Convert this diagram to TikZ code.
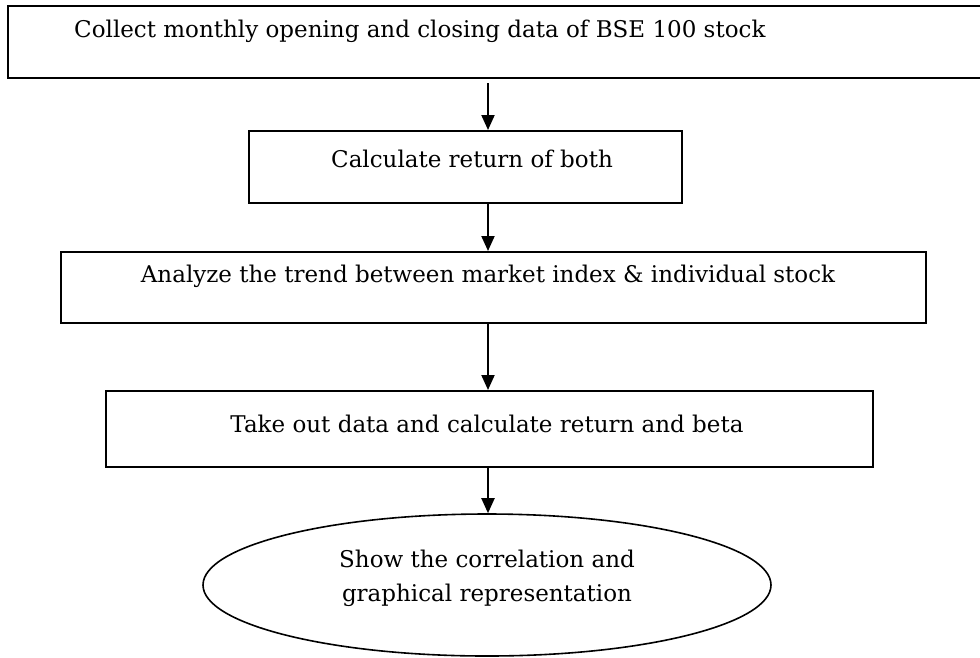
\documentclass[tikz,border=0pt]{standalone}
\usepackage{fontspec}
\setmainfont{DejaVu Serif}
\usetikzlibrary{shapes.geometric,arrows.meta}
\begin{document}
\begin{tikzpicture}[x=1pt,y=-1pt,
  boxline/.style={draw,line width=2pt},
  flow/.style={-{Triangle[length=15pt,width=13pt]},line width=2pt},
  txt/.style={font=\fontsize{23}{34}\selectfont,inner sep=0pt}]
\useasboundingbox (0,0) rectangle (980,657);
\clip (0,0) rectangle (980,657);
% boxes
\node[boxline,minimum width=1000pt,minimum height=72pt,anchor=north west] (b1) at (7,5) {};
\node[txt,anchor=west] (t1) at (74,31) {Collect monthly opening and closing data of BSE 100 stock};
\node[boxline,minimum width=433pt,minimum height=72pt,anchor=north west] (b2) at (248,130) {};
\node[txt] (t2) at (472,159) {Calculate return of both};
\node[boxline,minimum width=865pt,minimum height=71pt,anchor=north west] (b3) at (60,251) {};
\node[txt] (t3) at (488,276) {Analyze the trend between market index \& individual stock};
\node[boxline,minimum width=767pt,minimum height=76pt,anchor=north west] (b4) at (105,390) {};
\node[txt] (t4) at (487,424) {Take out data and calculate return and beta};
\node[draw,ellipse,line width=1.6pt,minimum width=568pt,minimum height=142pt,inner sep=0pt] (e) at (487,585) {};
\node[txt,align=center] (t5) at (487,578) {Show the correlation and\\graphical representation};
% arrows
\coordinate (a1s) at (488,83);
\coordinate (a2s) at (488,202);
\coordinate (a3s) at (488,322);
\coordinate (a4s) at (488,466);
\draw[flow] (a1s) -- (a1s |- b2.north);
\draw[flow] (a2s) -- (a2s |- b3.north);
\draw[flow] (a3s) -- (a3s |- b4.north);
\draw[flow] (a4s) -- (a4s |- e.north);
\end{tikzpicture}
\end{document}
